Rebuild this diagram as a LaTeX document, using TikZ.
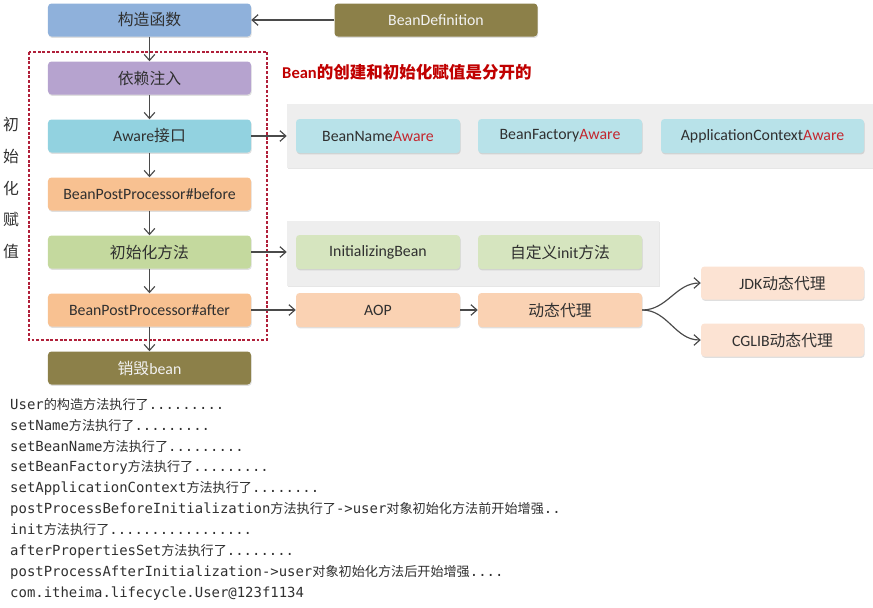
\documentclass[tikz,border=0pt]{standalone}
\usepackage{fontspec}
\setmainfont{Carlito}
\setmonofont{DejaVu Sans Mono}
\newfontfamily\cjk{Noto Sans CJK SC}
\usetikzlibrary{arrows.meta,shadows}

\definecolor{ctorblue}{HTML}{8FB1DB}
\definecolor{dipurple}{HTML}{B6A3CF}
\definecolor{awarecyan}{HTML}{92D2E0}
\definecolor{bpporange}{HTML}{F8C191}
\definecolor{initgreen}{HTML}{C4D99E}
\definecolor{beanolive}{HTML}{8C8049}
\definecolor{awarelight}{HTML}{B8E2E9}
\definecolor{initlight}{HTML}{D6E5BF}
\definecolor{aoporange}{HTML}{FAD2B3}
\definecolor{proxypeach}{HTML}{FCE3D3}
\definecolor{panelgray}{HTML}{EEEEEE}
\definecolor{textgray}{HTML}{303030}
\definecolor{awarered}{HTML}{C3262E}
\definecolor{titlered}{HTML}{C00000}
\definecolor{dashred}{HTML}{B0203A}
\definecolor{arrowgray}{HTML}{4A4A4A}

\newcommand{\zh}[1]{{\cjk #1}}
\newcommand{\logzh}[1]{{\cjk\fontsize{11.2}{12}\selectfont #1}}
\newcommand{\aw}{\textcolor{awarered}{Aware}}

\begin{document}
\begin{tikzpicture}
    [
      x=0.03cm, y=-0.03cm,
      stage/.style={rounded corners=3pt,minimum width=6.09cm,minimum height=0.99cm,
        inner sep=0pt,text=textgray,font=\fontsize{13.5}{16}\selectfont,
        drop shadow={opacity=0.25,shadow xshift=0.6pt,shadow yshift=-1.2pt}},
      sub/.style={stage,minimum width=4.92cm,minimum height=1.02cm},
      panel/.style={fill=panelgray,inner sep=0pt,
        drop shadow={opacity=0.2,shadow xshift=0.6pt,shadow yshift=-1.2pt}},
      flow/.style={-{Straight Barb[length=1.8mm,width=3.2mm]},line width=1pt,draw=arrowgray}
    ]

    \useasboundingbox (0,0) rectangle (873,607);

    % lifecycle stages
    \node at (149.5,20) [stage,fill=ctorblue] (ctor) {\zh{构造函数}};
    \node at (149.5,78) [stage,fill=dipurple] (inject) {\zh{依赖注入}};
    \node at (149.5,136) [stage,fill=awarecyan] (aware) {Aware\zh{接口}};
    \node at (149.5,194) [stage,fill=bpporange] (before) {BeanPostProcessor\#before};
    \node at (149.5,252) [stage,fill=initgreen] (initm) {\zh{初始化方法}};
    \node at (149.5,310) [stage,fill=bpporange] (after) {BeanPostProcessor\#after};
    \node at (149.5,368) [stage,fill=beanolive,text=white!95!black] (destroy) {\zh{销毁}bean};
    \node at (436,20) [stage,fill=beanolive,text=white!95!black] (beandef) {BeanDefinition};

    \draw [dashred,line width=1pt,dash pattern=on 2.5pt off 1.5pt] (29,52) rectangle (267,340);
    \node at (11,188) [align=center,font=\cjk\fontsize{13.5}{27.2}\selectfont,text=textgray] (phase) {初\\始\\化\\赋\\值};
    \node at (282,72) [anchor=west,inner sep=0pt,text=titlered,font=\bfseries\fontsize{14.1}{16}\selectfont] (note) {Bean\zh{的创建和初始化赋值是分开的}};

    % aware callbacks
    \node at (583.5,136) [panel,minimum width=17.79cm,minimum height=1.92cm] (awarepanel) {};
    \node at (378,136) [sub,fill=awarelight] (beanname) {BeanName\aw};
    \node at (560,136) [sub,fill=awarelight] (beanfactory) {BeanFactory\aw};
    \node at (762.5,136) [sub,fill=awarelight,minimum width=6.09cm] (appctx) {ApplicationContext\aw};

    % init methods
    \node at (473,253.5) [panel,minimum width=11.16cm,minimum height=1.95cm] (initpanel) {};
    \node at (378,252) [sub,fill=initlight] (initbean) {InitializingBean};
    \node at (560,252) [sub,fill=initlight] (custinit) {\zh{自定义}init\zh{方法}};

    % proxies
    \node at (378,310) [sub,fill=aoporange] (aop) {AOP};
    \node at (560,310) [sub,fill=aoporange] (proxy) {\zh{动态代理}};
    \node at (782.5,283) [sub,fill=proxypeach,minimum width=4.89cm,minimum height=0.99cm] (jdk) {JDK\zh{动态代理}};
    \node at (782.5,340) [sub,fill=proxypeach,minimum width=4.89cm,minimum height=0.99cm] (cglib) {CGLIB\zh{动态代理}};

    \draw [flow] (beandef) -- (ctor);
    \draw [flow] (ctor) -- (inject);
    \draw [flow] (inject) -- (aware);
    \draw [flow] (aware) -- (before);
    \draw [flow] (before) -- (initm);
    \draw [flow] (initm) -- (after);
    \draw [flow] (after) -- (destroy);
    \draw [flow] (aware.east) -- (awarepanel.west |- aware.east);
    \draw [flow] (initm.east) -- (initpanel.west |- initm.east);
    \draw [flow] (after) -- (aop);
    \draw [flow] (aop) -- (proxy);
    \draw [flow] (proxy.east) to [out=0,in=180] (jdk.west);
    \draw [flow] (proxy.east) to [out=0,in=180] (cglib.west);

    % console output
    \node at (10,398) [anchor=north west,inner sep=0pt,align=left,text=textgray,
      font=\ttfamily\fontsize{11.9}{17.8}\selectfont] (log) {
      User\logzh{的构造方法执行了}.........\\
      setName\logzh{方法执行了}.........\\
      setBeanName\logzh{方法执行了}.........\\
      setBeanFactory\logzh{方法执行了}.........\\
      setApplicationContext\logzh{方法执行了}........\\
      postProcessBeforeInitialization\logzh{方法执行了}->user\logzh{对象初始化方法前开始增强}..\\
      init\logzh{方法执行了}.................\\
      afterPropertiesSet\logzh{方法执行了}........\\
      postProcessAfterInitialization->user\logzh{对象初始化方法后开始增强}....\\
      com.itheima.lifecycle.User@123f1134};
  \end{tikzpicture}
\end{document}
